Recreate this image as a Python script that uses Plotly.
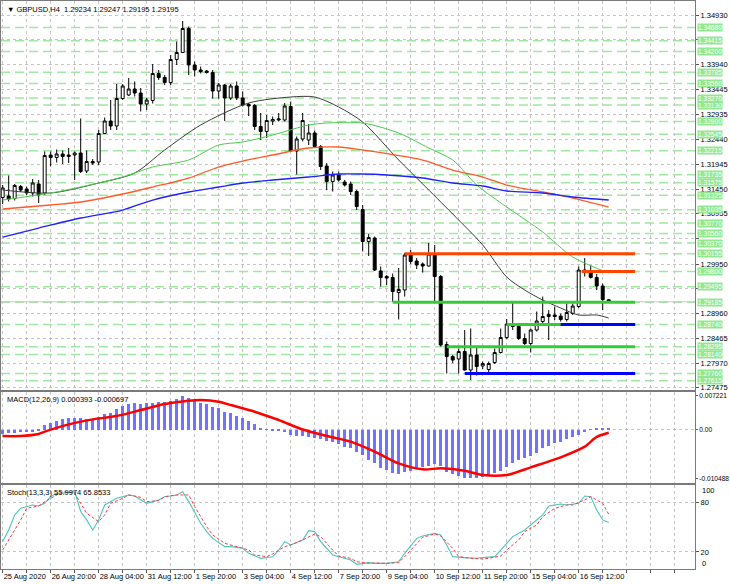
import plotly.graph_objects as go

FONT = "Liberation Sans"

# H4 bars, index 0 = 25 Aug 2020 12:00
bars = list(range(102))

opens = [1.3128, 1.3131, 1.3126, 1.3150, 1.3145, 1.3137, 1.3155, 1.3137, 1.3213, 1.3208,
         1.3215, 1.3210, 1.3213, 1.3217, 1.3181, 1.3200, 1.3199, 1.3256, 1.3281, 1.3271,
         1.3326, 1.3333, 1.3345, 1.3337, 1.3315, 1.3322, 1.3376, 1.3368, 1.3358, 1.3404,
         1.3418, 1.3466, 1.3393, 1.3383, 1.3381, 1.3378, 1.3341, 1.3353, 1.3327, 1.3351,
         1.3327, 1.3314, 1.3312, 1.3270, 1.3260, 1.3281, 1.3283, 1.3283, 1.3310, 1.3221,
         1.3245, 1.3243, 1.3257, 1.3230, 1.3191, 1.3160, 1.3173, 1.3159, 1.3155, 1.3140,
         1.3104, 1.3040, 1.3047, 1.2981, 1.2970, 1.2968, 1.2938, 1.2943, 1.3013, 1.3001,
         1.2995, 1.2991, 1.3015, 1.2970, 1.2834, 1.2810, 1.2805, 1.2820, 1.2783, 1.2813,
         1.2791, 1.2784, 1.2798, 1.2818, 1.2848, 1.2875, 1.2870, 1.2846, 1.2836, 1.2863,
         1.2880, 1.2890, 1.2893, 1.2891, 1.2884, 1.2896, 1.2910, 1.2983, 1.2980, 1.2968,
         1.2951, 1.29234]
highs = [1.3153, 1.3172, 1.3155, 1.3153, 1.3150, 1.3165, 1.3163, 1.3220, 1.3220, 1.3224,
         1.3222, 1.3227, 1.3220, 1.3286, 1.3222, 1.3205, 1.3263, 1.3288, 1.3323, 1.3355,
         1.3355, 1.3367, 1.3360, 1.3347, 1.3327, 1.3395, 1.3383, 1.3373, 1.3413, 1.3440,
         1.3481, 1.3470, 1.3400, 1.3390, 1.3383, 1.3383, 1.3357, 1.3355, 1.3355, 1.3360,
         1.3340, 1.3317, 1.3315, 1.3297, 1.3293, 1.3290, 1.3297, 1.3317, 1.3320, 1.3250,
         1.3297, 1.3275, 1.3262, 1.3233, 1.3197, 1.3180, 1.3180, 1.3163, 1.3160, 1.3143,
         1.3113, 1.3055, 1.3050, 1.2990, 1.2973, 1.2976, 1.2987, 1.3017, 1.3023, 1.3007,
         1.2998, 1.3037, 1.3033, 1.2973, 1.2840, 1.2813, 1.2826, 1.2863, 1.2866, 1.2830,
         1.2800, 1.2800, 1.2826, 1.2866, 1.2885, 1.2920, 1.2873, 1.2856, 1.2866, 1.2900,
         1.2930, 1.2903, 1.2910, 1.2896, 1.2916, 1.2916, 1.2990, 1.3007, 1.2993, 1.2975,
         1.2956, 1.29247]
lows = [1.3115, 1.3120, 1.3122, 1.3139, 1.3133, 1.3130, 1.3117, 1.3133, 1.3190, 1.3198,
        1.3195, 1.3197, 1.3163, 1.3177, 1.3177, 1.3193, 1.3193, 1.3255, 1.3263, 1.3263,
        1.3323, 1.3331, 1.3330, 1.3300, 1.3303, 1.3316, 1.3363, 1.3353, 1.3353, 1.3393,
        1.3417, 1.3373, 1.3370, 1.3376, 1.3376, 1.3326, 1.3326, 1.3281, 1.3323, 1.3323,
        1.3310, 1.3291, 1.3263, 1.3243, 1.3247, 1.3273, 1.3280, 1.3280, 1.3220, 1.3174,
        1.3240, 1.3233, 1.3227, 1.3183, 1.3143, 1.3140, 1.3160, 1.3150, 1.3133, 1.3103,
        1.3020, 1.3011, 1.2981, 1.2950, 1.2953, 1.2920, 1.2884, 1.2930, 1.2995, 1.2985,
        1.2978, 1.2990, 1.2920, 1.2830, 1.2776, 1.2797, 1.2776, 1.2782, 1.2763, 1.2772,
        1.2785, 1.2775, 1.2795, 1.2816, 1.2845, 1.2863, 1.2843, 1.2833, 1.2818, 1.2860,
        1.2876, 1.2843, 1.2883, 1.2880, 1.2880, 1.2893, 1.2907, 1.2970, 1.2966, 1.2943,
        1.2903, 1.29195]
closes = [1.3147, 1.3125, 1.3152, 1.3143, 1.3137, 1.3157, 1.3133, 1.3212, 1.3208, 1.3215,
          1.3210, 1.3213, 1.3217, 1.3180, 1.3200, 1.3197, 1.3256, 1.3281, 1.3271, 1.3326,
          1.3351, 1.3345, 1.3337, 1.3315, 1.3323, 1.3376, 1.3368, 1.3358, 1.3404, 1.3418,
          1.3466, 1.3393, 1.3383, 1.3380, 1.3378, 1.3341, 1.3353, 1.3327, 1.3351, 1.3327,
          1.3313, 1.3311, 1.3270, 1.3260, 1.3282, 1.3284, 1.3285, 1.3311, 1.3221, 1.3245,
          1.3282, 1.3257, 1.3230, 1.3190, 1.3160, 1.3173, 1.3163, 1.3153, 1.3140, 1.3110,
          1.3040, 1.3048, 1.2983, 1.2968, 1.2967, 1.2940, 1.2944, 1.3013, 1.3000, 1.2993,
          1.2991, 1.3015, 1.2970, 1.2833, 1.2810, 1.2803, 1.2820, 1.2783, 1.2813, 1.2790,
          1.2796, 1.2796, 1.2818, 1.2848, 1.2875, 1.2870, 1.2846, 1.2836, 1.2863, 1.2881,
          1.2890, 1.2894, 1.2890, 1.2884, 1.2898, 1.2911, 1.2983, 1.2978, 1.2968, 1.2951,
          1.2924, 1.29195]

# moving averages at a few bars
ma_black_idx = [0, 8, 16, 22, 27, 33, 41, 48, 52, 56, 60, 66, 70, 75, 80, 84, 87, 90, 93, 96, 99, 101]
ma_black = [1.3143, 1.3137, 1.3157, 1.3177, 1.3223, 1.3273, 1.3317, 1.3329, 1.3329, 1.3309, 1.3279,
            1.3203, 1.3155, 1.3095, 1.3033, 1.2969, 1.2943, 1.2923, 1.2907, 1.2893, 1.2893, 1.2887]
ma_green_idx = [0, 8, 13, 20, 25, 31, 36, 40, 45, 51, 54, 60, 66, 71, 75, 79, 84, 90, 95, 101]
ma_green = [1.3123, 1.3137, 1.3149, 1.3169, 1.3189, 1.3203, 1.3233, 1.3239, 1.3253, 1.3273,
            1.3277, 1.3277, 1.3257, 1.3227, 1.3203, 1.3153, 1.3109, 1.3059, 1.3009, 1.2977]
ma_orange_idx = [0, 8, 13, 20, 25, 31, 36, 40, 45, 51, 56, 60, 70, 75, 80, 84, 90, 95, 101]
ma_orange = [1.3105, 1.3113, 1.3119, 1.3135, 1.3149, 1.3167, 1.3189, 1.3201, 1.3213, 1.3227,
             1.3229, 1.3223, 1.3203, 1.3183, 1.3169, 1.3153, 1.3139, 1.3127, 1.3109]
ma_blue_idx = [0, 6, 13, 20, 25, 31, 36, 40, 45, 51, 56, 60, 64, 70, 75, 80, 84, 90, 95, 101]
ma_blue = [1.3049, 1.3067, 1.3087, 1.3103, 1.3123, 1.3139, 1.3149, 1.3157, 1.3163, 1.3169,
           1.3175, 1.3175, 1.3173, 1.3167, 1.3157, 1.3151, 1.3141, 1.3137, 1.3129, 1.3123]

macd_hist = [-0.00097, -0.00082, -0.00068, -0.00061, -0.00054, -0.00047, -0.00025, 0.00097, 0.00147, 0.0019,
             0.00218, 0.0024, 0.0024, 0.0024, 0.00218, 0.00233, 0.00261, 0.00326, 0.00362, 0.00433,
             0.00505, 0.00548, 0.00562, 0.00548, 0.00562, 0.00577, 0.00584, 0.00591, 0.00613, 0.00665,
             0.007221, 0.0068, 0.0062, 0.00577, 0.00548, 0.00491, 0.00469, 0.00383, 0.00347, 0.0029,
             0.0024, 0.0019, 0.00111, 0.00025, 0.00004, -0.00011, -0.00025, -0.0005, -0.0012, -0.0013,
             -0.0014, -0.0016, -0.0018, -0.0020, -0.0024, -0.00261, -0.00312, -0.00369, -0.00405, -0.00476,
             -0.00548, -0.00655, -0.00727, -0.00835, -0.0087, -0.00928, -0.00956, -0.00906, -0.00885, -0.00835,
             -0.00813, -0.00784, -0.00741, -0.00784, -0.00906, -0.00956, -0.0100, -0.01035, -0.010488, -0.0104,
             -0.0102, -0.00999, -0.00942, -0.00885, -0.00813, -0.00727, -0.00655, -0.0062, -0.0057, -0.00498,
             -0.00405, -0.00355, -0.00297, -0.00261, -0.00211, -0.00154, -0.00118, -0.00047, 0.00004, 0.00025,
             0.00039, 0.000393]
macd_sig_idx = [0, 3, 6, 7, 11, 15, 19, 23, 27, 31, 33, 36, 38, 42, 46, 50, 54, 58, 62, 66,
                70, 73, 77, 80, 84, 88, 93, 97, 99, 101]
macd_sig = [-0.0014, -0.0014, -0.00097, -0.00047, 0.00111, 0.00218, 0.0029, 0.00419, 0.00548, 0.0062,
            0.00634, 0.00598, 0.00527, 0.00383, 0.00204, 0.0, -0.0014, -0.00261, -0.00476, -0.00727,
            -0.00856, -0.00835, -0.00885, -0.00978, -0.00978, -0.00813, -0.00598, -0.00369, -0.0016, -0.000697]

stoch_k_idx = [0, 1, 2, 3, 5, 6, 7, 8, 9, 10, 12, 13, 14, 15, 16, 17, 19, 20, 21, 22,
               23, 24, 26, 27, 28, 29, 30, 31, 33, 34, 35, 37, 38, 40, 41, 43, 45, 46, 47, 48,
               50, 51, 52, 53, 55, 56, 58, 59, 61, 62, 64, 66, 67, 69, 70, 72, 73, 74, 75, 77,
               79, 80, 82, 83, 85, 87, 88, 90, 91, 93, 94, 96, 97, 98, 99, 100, 101]
stoch_k = [32.6, 46.8, 65.0, 73.1, 77.2, 76.0, 79.2, 87.3, 91.4, 91.4, 93.4, 69.1, 59.0, 46.8, 59.0, 77.2, 85.3, 87.3, 89.4, 88.1,
           83.3, 79.2, 83.3, 87.3, 88.1, 89.4, 93.4, 81.3, 54.9, 44.8, 36.6, 26.5, 26.5, 24.5, 18.4, 12.3, 14.3, 22.4, 32.6, 28.5,
           34.6, 46.0, 44.8, 32.6, 16.4, 14.3, 10.3, 5.0, 7.0, 6.2, 6.2, 8.2, 18.4, 36.6, 39.5, 42.7, 40.7, 28.5, 14.3, 13.1,
           12.3, 13.1, 14.3, 22.4, 38.7, 46.8, 52.9, 65.0, 76.0, 78.4, 77.2, 79.2, 88.1, 87.3, 71.1, 59.0, 55.9974]
stoch_d_idx = [0, 1, 3, 4, 6, 7, 9, 10, 12, 13, 14, 16, 17, 18, 20, 21, 23, 24, 26, 27,
               29, 31, 32, 34, 35, 37, 39, 41, 42, 44, 45, 47, 48, 50, 52, 53, 55, 56, 58, 59,
               61, 62, 64, 66, 67, 69, 70, 72, 73, 75, 76, 78, 80, 81, 83, 84, 86, 87, 89, 90,
               92, 94, 95, 97, 98, 100, 101]
stoch_d = [22.4, 34.6, 59.0, 73.1, 76.0, 81.2, 89.4, 93.4, 91.4, 79.2, 67.1, 56.9, 65.0, 79.2, 85.3, 89.4, 86.5, 81.2, 82.5, 87.3,
           89.4, 89.4, 75.2, 50.8, 40.7, 30.6, 26.5, 22.4, 16.4, 14.3, 17.6, 26.5, 28.5, 34.6, 41.9, 38.7, 22.4, 15.1, 12.3, 8.2,
           6.2, 6.6, 6.2, 7.0, 14.3, 30.6, 37.9, 41.9, 39.5, 24.5, 14.3, 12.3, 11.5, 12.3, 15.1, 22.4, 34.6, 44.8, 52.9, 63.0,
           73.1, 77.2, 77.2, 83.3, 87.3, 79.2, 65.8533]

# time axis
label_bars = [0, 8, 16, 24, 32, 40, 48, 56, 64, 72, 80, 88, 96]
label_text = ["25 Aug 2020", "26 Aug 20:00", "28 Aug 04:00", "31 Aug 12:00", "1 Sep 20:00",
              "3 Sep 04:00", "4 Sep 12:00", "7 Sep 20:00", "9 Sep 04:00", "10 Sep 12:00",
              "11 Sep 20:00", "15 Sep 04:00", "16 Sep 12:00"]
grid_bars = list(range(0, 113, 4))

price_ticks = [1.34930, 1.34435, 1.33940, 1.33445, 1.32935, 1.32440, 1.31945, 1.31450,
               1.30955, 1.30460, 1.29950, 1.29455, 1.28960, 1.28465, 1.27970, 1.27475]
# these scale labels sit under level tags in the reference
hidden_ticks = [1.34435, 1.30460, 1.29455]

# light green dashed levels
level_prices = [1.34680, 1.34415, 1.34200, 1.33785, 1.33560, 1.33270, 1.33130, 1.32800,
                1.32545, 1.32215, 1.31735, 1.31575, 1.31325, 1.31035, 1.30770, 1.30560,
                1.30370, 1.30155, 1.29800, 1.29495, 1.29185, 1.28740, 1.28295, 1.28140,
                1.27760, 1.27615]

# drawn support / resistance segments
seg_price = [1.30155, 1.29800, 1.29185, 1.28740, 1.28740, 1.28295, 1.27760]
seg_start = [67, 96.5, 65, 84, 93, 74, 77]
seg_end = 105.4
seg_color = ["#ff4500", "#ff4500", "#32cd32", "#32cd32", "#0000ff", "#32cd32", "#0000ff"]

fig = go.Figure()

fig.add_trace(go.Candlestick(
    x=bars, open=opens, high=highs, low=lows, close=closes,
    xaxis="x2", yaxis="y",
    increasing=dict(line=dict(color="black", width=1), fillcolor="white"),
    decreasing=dict(line=dict(color="black", width=1), fillcolor="black"),
    hoverinfo="skip", showlegend=False,
))

for idx, vals, col, w in [(ma_black_idx, ma_black, "#3a3a3a", 1),
                          (ma_green_idx, ma_green, "#4ccc4c", 1),
                          (ma_orange_idx, ma_orange, "#ff5a28", 1.3),
                          (ma_blue_idx, ma_blue, "#2020ff", 1.3)]:
    fig.add_trace(go.Scatter(x=idx, y=vals, mode="lines", xaxis="x2", yaxis="y",
                             line=dict(color=col, width=w, shape="spline", smoothing=0.8),
                             hoverinfo="skip", showlegend=False))

fig.add_trace(go.Bar(x=bars, y=macd_hist, xaxis="x3", yaxis="y2", width=0.3,
                     marker=dict(color="#7272ff", line=dict(width=0)),
                     hoverinfo="skip", showlegend=False))
fig.add_trace(go.Scatter(x=macd_sig_idx, y=macd_sig, mode="lines", xaxis="x3", yaxis="y2",
                         line=dict(color="#ff0000", width=2.5, shape="spline", smoothing=0.8),
                         hoverinfo="skip", showlegend=False))

fig.add_trace(go.Scatter(x=stoch_k_idx, y=stoch_k, mode="lines", xaxis="x", yaxis="y3",
                         line=dict(color="#4cc4bc", width=1.1),
                         hoverinfo="skip", showlegend=False))
fig.add_trace(go.Scatter(x=stoch_d_idx, y=stoch_d, mode="lines", xaxis="x", yaxis="y3",
                         line=dict(color="#ff3b3b", width=1, dash="3px,2px"),
                         hoverinfo="skip", showlegend=False))

shapes = []
for p in level_prices:
    shapes.append(dict(type="line", xref="x2 domain", x0=0, x1=1, yref="y", y0=p, y1=p,
                       line=dict(color="#9fe89f", width=1.5, dash="9px,5px"), layer="below"))
shapes.append(dict(type="line", xref="x2 domain", x0=0, x1=1, yref="y", y0=closes[-1], y1=closes[-1],
                   line=dict(color="#c8c8c8", width=1), layer="below"))
for p, s, c in zip(seg_price, seg_start, seg_color):
    shapes.append(dict(type="line", xref="x2", x0=s, x1=seg_end, yref="y", y0=p, y1=p,
                       line=dict(color=c, width=3)))
shapes.append(dict(type="line", xref="x3 domain", x0=0, x1=1, yref="y2", y0=0, y1=0,
                   line=dict(color="#c4c4c4", width=1, dash="dot"), layer="below"))

small = dict(family=FONT, size=7.5, color="black")
annotations = []
for p in level_prices:
    annotations.append(dict(xref="paper", x=1, xanchor="left", xshift=2, yref="y", y=p,
                            text=f"{p:.5f}", showarrow=False, bgcolor="#90e890", borderpad=0,
                            font=dict(family=FONT, size=6.6, color="white")))
annotations.append(dict(xref="paper", x=0, xanchor="left", xshift=4, yref="paper", y=1,
                        yanchor="top", yshift=-2, showarrow=False, font=small,
                        text=f"▼ GBPUSD,H4  {opens[-1]:.5f} {highs[-1]:.5f} {lows[-1]:.5f} {closes[-1]:.5f}"))
annotations.append(dict(xref="paper", x=0, xanchor="left", xshift=4, yref="y2 domain", y=1,
                        yanchor="top", yshift=-1, showarrow=False, font=small,
                        text=f"MACD(12,26,9) {macd_hist[-1]:.6f} {macd_sig[-1]:.6f}"))
annotations.append(dict(xref="paper", x=0, xanchor="left", xshift=4, yref="y3 domain", y=1,
                        yanchor="top", yshift=-1, showarrow=False, font=small,
                        text=f"Stoch(13,3,3) {stoch_k[-1]:.4f} {stoch_d[-1]:.4f}"))
annotations.append(dict(xref="paper", x=1, xanchor="left", xshift=5, yref="y3", y=100,
                        yshift=-4, showarrow=False, font=small, text="100"))
annotations.append(dict(xref="paper", x=1, xanchor="left", xshift=5, yref="y3", y=0,
                        yshift=5, showarrow=False, font=small, text="0"))

common_x = dict(range=[-0.28, 115.38], tickvals=grid_bars, showgrid=True, gridcolor="#c4c4c4",
                griddash="dot", gridwidth=1, zeroline=False, showline=True, mirror=True,
                linecolor="#7a7a7a", fixedrange=True, automargin=False, tickangle=0)
common_y = dict(side="right", zeroline=False, showline=True, mirror=True, linecolor="#7a7a7a",
                ticks="outside", ticklen=3, tickcolor="#555555", tickfont=small, fixedrange=True,
                automargin=False)

tick_text = [label_text[label_bars.index(b)] if b in label_bars else "" for b in grid_bars]
price_text = ["" if v in hidden_ticks else f"{v:.5f}" for v in price_ticks]

fig.update_layout(
    width=730, height=584,
    margin=dict(l=1, r=35, t=1, b=15),
    paper_bgcolor="white", plot_bgcolor="white",
    showlegend=False, bargap=0,
    font=dict(family=FONT, size=7.5, color="black"),
    xaxis=dict(common_x, anchor="y3", domain=[0, 1], ticktext=tick_text, ticks="outside",
               ticklen=3, tickcolor="#555555", ticklabelposition="outside right", tickfont=small),
    xaxis2=dict(common_x, anchor="y", domain=[0, 1], showticklabels=False, ticks="",
                rangeslider=dict(visible=False)),
    xaxis3=dict(common_x, anchor="y2", domain=[0, 1], showticklabels=False, ticks=""),
    yaxis=dict(common_y, anchor="x2", domain=[0.3151, 1], range=[1.2743, 1.3521],
               tickvals=price_ticks, ticktext=price_text,
               showgrid=True, gridcolor="#c4c4c4", griddash="dot"),
    yaxis2=dict(common_y, anchor="x3", domain=[0.1514, 0.3116], range=[-0.0115, 0.00806],
                tickvals=[0.007221, 0, -0.010488], ticktext=["0.007221", "0.00", "-0.010488"],
                showgrid=False, ticklen=2, tickfont=dict(family=FONT, size=6.6, color="black")),
    yaxis3=dict(common_y, anchor="x", domain=[0, 0.1479], range=[-0.7, 101.5],
                tickvals=[80, 20], ticktext=["80", "20"],
                showgrid=True, gridcolor="#c4c4c4", griddash="dot"),
    shapes=shapes,
    annotations=annotations,
)

fig.write_html("out.html", config={"displayModeBar": False},
               post_script="document.body.style.margin='0';document.body.style.overflow='hidden';")
